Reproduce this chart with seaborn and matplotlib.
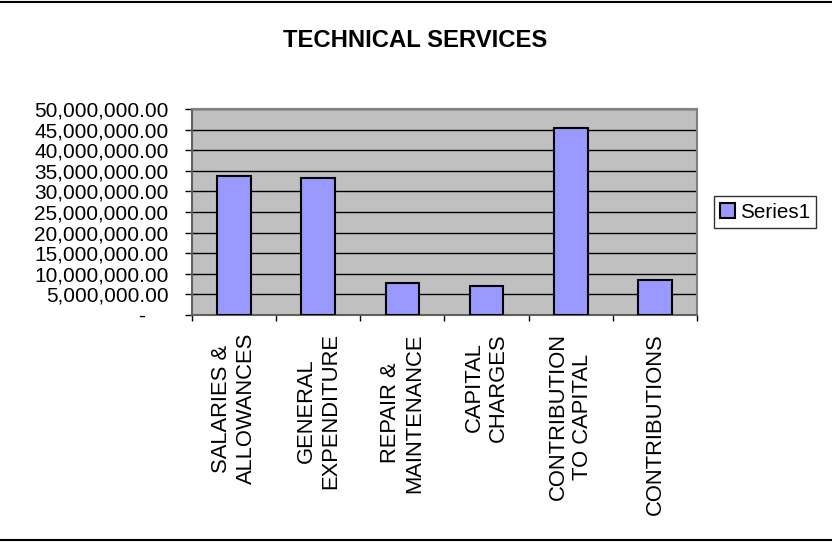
import matplotlib
matplotlib.use("Agg")
import matplotlib.pyplot as plt
import matplotlib.ticker as mticker
from matplotlib.lines import Line2D
import seaborn as sns
import pandas as pd
import numpy as np

categories = [
    "SALARIES &\nALLOWANCES",
    "GENERAL\nEXPENDITURE",
    "REPAIR &\nMAINTENANCE",
    "CAPITAL\nCHARGES",
    "CONTRIBUTION\nTO CAPITAL",
    "CONTRIBUTIONS",
]
values = [33740000, 33170000, 7800000, 7150000, 45450000, 8460000]
series_name = "Series1"
title = "TECHNICAL SERVICES"

df = pd.DataFrame({"category": categories, "value": values})

sns.set_style("white")
plt.rcParams["font.family"] = ["Liberation Sans", "DejaVu Sans"]
plt.rcParams["text.color"] = "black"
plt.rcParams["xtick.color"] = "black"
plt.rcParams["ytick.color"] = "black"

fig = plt.figure(figsize=(8.32, 5.42), dpi=100)
ax = fig.add_axes([192 / 832, 1 - 315 / 542, 505 / 832, 206 / 542])
ax.set_facecolor("#C0C0C0")

sns.barplot(data=df, x="category", y="value", color="#9999FF", width=0.4,
            edgecolor="black", linewidth=1.5, saturation=1, label=series_name,
            ax=ax, zorder=3)

ax.set_ylim(0, 50000000)
ax.set_xlim(-0.5, len(categories) - 0.5)
ax.yaxis.set_major_locator(mticker.MultipleLocator(5000000))
ax.yaxis.set_major_formatter(mticker.FuncFormatter(
    lambda v, p: "-    " if v == 0 else f"{v:,.2f}"))
ax.grid(axis="y", color="black", linewidth=1, zorder=1)
ax.set_axisbelow(True)

ax.set_xlabel("")
ax.set_ylabel("")
ax.tick_params(axis="y", direction="out", length=5, width=1, color="black",
               labelsize=15, pad=12, left=True)
ax.tick_params(axis="x", which="major", length=0, labelsize=15.8, pad=13,
               labelrotation=90)
ax.set_xticks(np.arange(-0.5, len(categories)), minor=True)
ax.tick_params(axis="x", which="minor", direction="out", length=4.5, width=1,
               color="black", bottom=True)
for lab in ax.get_xticklabels():
    lab.set_horizontalalignment("center")
    lab.set_verticalalignment("top")
    lab.set_multialignment("center")
    lab.set_linespacing(1.2)

for side in ["left", "bottom"]:
    ax.spines[side].set_color("#606060")
    ax.spines[side].set_linewidth(1.5)
for side in ["top", "right"]:
    ax.spines[side].set_color("#808080")
    ax.spines[side].set_linewidth(1.5)

fig.text(0.4994, 0.926, title, ha="center", va="center", fontsize=17.2,
         fontweight="bold")

leg = ax.legend(loc="center left", bbox_to_anchor=(714 / 832, 1 - 212 / 542),
                bbox_transform=fig.transFigure, frameon=True, fancybox=False,
                fontsize=14.9, handlelength=0.7, handleheight=0.7,
                handletextpad=0.25, borderpad=0.3, borderaxespad=0)
leg.get_frame().set_edgecolor("black")
leg.get_frame().set_linewidth(1)

fig.add_artist(Line2D([0, 1], [0.997, 0.997], transform=fig.transFigure,
                      color="black", linewidth=1.5))
fig.add_artist(Line2D([0, 1], [0.004, 0.004], transform=fig.transFigure,
                      color="black", linewidth=1.5))

fig.savefig("out.png", dpi=100)
